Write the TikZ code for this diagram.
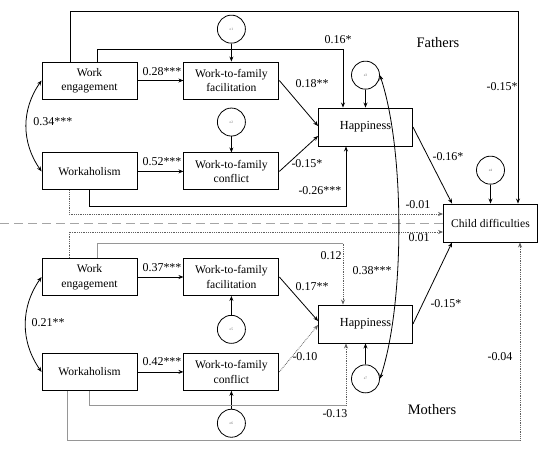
\documentclass[tikz,border=0pt]{standalone}
\usepackage{fontspec}
\setmainfont{Liberation Serif}
\usetikzlibrary{arrows.meta, positioning, calc}
\definecolor{pathgrey}{RGB}{150,150,150}
\definecolor{dotgrey}{RGB}{95,95,95}
\definecolor{sepgrey}{RGB}{165,165,165}
\tikzset{
    block/.style={
        rectangle,
        draw=black,
        line width=0.9pt,
        fill=white,
        align=center,
        inner sep=0pt,
        minimum width=95pt,
        minimum height=37pt,
        font=\fontsize{11.6}{14.5}\selectfont
    },
    outblock/.style={
        block,
        minimum width=94pt,
        minimum height=38pt
    },
    hapblock/.style={
        outblock,
        font=\fontsize{12.3}{14.5}\selectfont
    },
    errnode/.style={
        circle,
        draw=black,
        line width=0.8pt,
        fill=white,
        inner sep=0pt,
        minimum size=28pt,
        text=black!60,
        font=\fontsize{3.5}{4}\selectfont
    },
    connection/.style={
        draw=black,
        line width=0.8pt,
        -{Stealth[length=5pt,width=4pt]}
    },
    greypath/.style={
        draw=pathgrey,
        line width=0.8pt
    },
    dotpath/.style={
        draw=dotgrey,
        line width=0.8pt,
        densely dotted,
        -{Stealth[length=5pt,width=4pt]}
    },
    covariance/.style={
        draw=black,
        line width=0.8pt,
        {Stealth[length=5pt,width=4pt]}-{Stealth[length=5pt,width=4pt]}
    },
    separator/.style={
        draw=sepgrey,
        line width=1pt,
        dash pattern=on 9pt off 5pt
    },
    coef/.style={
        inner sep=0pt,
        font=\fontsize{12}{14}\selectfont
    },
    groupname/.style={
        inner sep=0pt,
        font=\fontsize{14.5}{16}\selectfont
    }
}

\begin{document}
\begin{tikzpicture}[x=1pt, y=-1pt]
\useasboundingbox (0,0) rectangle (550,451);
% Fathers
\node[block] (we1) at (89.5,80.5) {Work\\engagement};
\node[block, right=46pt of we1] (wff1) {Work-to-family\\facilitation};
\node[block, below=53pt of we1] (wa1) {Workaholism};
\node[block, right=46pt of wa1] (wfc1) {Work-to-family\\conflict};
\node[hapblock] (hap1) at (365.5,127) {Happiness};
\node[errnode, above=18pt of wff1] (e1) {e1};
\node[errnode, above=16pt of wfc1] (e2) {e2};
\node[errnode, above=18pt of hap1] (e3) {e3};

% Child difficulties
\node[outblock] (cd) at (490.5,223) {Child difficulties};
\node[errnode, above=19pt of cd] (e4) {e4};

% Mothers
\node[block] (we2) at (89.5,277) {Work\\engagement};
\node[block, right=46pt of we2] (wff2) {Work-to-family\\facilitation};
\node[block, below=57pt of we2] (wa2) {Workaholism};
\node[block, right=46pt of wa2] (wfc2) {Work-to-family\\conflict};
\node[hapblock] (hap2) at (365.5,324) {Happiness};
\node[errnode, below=19pt of wff2] (e5) {e5};
\node[errnode, below=18pt of wfc2] (e6) {e6};
\node[errnode, below=21pt of hap2] (e7) {e7};

\coordinate (sepstart) at (0,223);
\draw[separator] (sepstart) -- (cd.west);

\draw[connection] (we1) -- (wff1);
\draw[connection] (wa1) -- (wfc1);
\draw[connection] (e1) -- (wff1);
\draw[connection] (e2) -- (wfc1);
\draw[connection] (e3) -- (hap1);
\draw[connection] (e4) -- (cd);
\draw[covariance] (we1.west) to[bend right=35] (wa1.west);
\draw[connection] (wff1.east) -- ([yshift=1pt]hap1.west);
\draw[connection] (wfc1.east) -- ([yshift=-9pt]hap1.west);
\draw[connection] ([xshift=-19.5pt]we1.north) -- ++(0,-50) -| ([xshift=27.5pt]cd.north);
\draw[connection] ([xshift=7.5pt]we1.north) -- ++(0,-12) -| ([xshift=-22.5pt]hap1.north);
\draw[connection] (wa1.south) -- ++(0,16) -| ([xshift=-19.5pt]hap1.south);
\draw[dotpath] ([xshift=-20.5pt]wa1.south) |- ([yshift=9pt]cd.west);
\draw[connection] (hap1.east) -- ([xshift=9pt]cd.north west);

\draw[connection] (we2) -- (wff2);
\draw[connection] (wa2) -- (wfc2);
\draw[connection] (e5) -- (wff2);
\draw[connection] (e6) -- (wfc2);
\draw[connection] (e7) -- (hap2);
\draw[covariance] (we2.west) to[bend right=35] (wa2.west);
\draw[connection] (wff2.east) -- ([yshift=3pt]hap2.west);
\draw[dotpath] (wfc2.east) -- ([yshift=-1pt]hap2.west);
\draw[dotpath] ([xshift=-20.5pt]we2.north) |- ([yshift=-9pt]cd.west);
\draw[greypath] ([xshift=7.5pt]we2.north) |- ([xshift=-22.5pt,yshift=61pt]hap2.north) coordinate (bend12);
\draw[dotpath] (bend12) -- ([xshift=-22.5pt]hap2.north);
\draw[greypath] (wa2.south) |- ([xshift=-19.5pt,yshift=-62pt]hap2.south) coordinate (bend13);
\draw[dotpath] (bend13) -- ([xshift=-19.5pt]hap2.south);
\draw[greypath] ([xshift=-22.5pt]wa2.south) |- ([xshift=29.5pt,yshift=-198pt]cd.south) coordinate (bend04);
\draw[dotpath] (bend04) -- ([xshift=29.5pt]cd.south);
\draw[connection] (hap2.east) -- ([xshift=9pt]cd.south west);
\draw[covariance] (e3.east) .. controls +(25,75) and +(25,-75) .. (e7.east);

% coefficients
\node[coef] (weff1) at (162,72) {0.28***};
\node[coef] (wafc1) at (162,162) {0.52***};
\node[coef] (corr1) at (53,122) {0.34***};
\node[coef] (wehap1) at (338,40) {0.16*};
\node[coef] (wecd1) at (502,87) {-0.15*};
\node[coef] (ffhap1) at (312,84) {0.18**};
\node[coef] (fchap1) at (307,164) {-0.15*};
\node[coef] (wahap1) at (320,191) {-0.26***};
\node[coef] (hapcd1) at (448,157) {-0.16*};
\node[coef] (wacd1) at (418,205) {-0.01};
\node[groupname] (fathers) at (438,43) {Fathers};

\node[coef] (wecd2) at (419,238) {0.01};
\node[coef] (wehap2) at (331,256) {0.12};
\node[coef] (e3e7) at (372,271) {0.38***};
\node[coef] (weff2) at (162,268) {0.37***};
\node[coef] (ffhap2) at (312,287) {0.17**};
\node[coef] (hapcd2) at (446,304) {-0.15*};
\node[coef] (corr2) at (48,323) {0.21**};
\node[coef] (wafc2) at (162,362) {0.42***};
\node[coef] (fchap2) at (305,357) {-0.10};
\node[coef] (wacd2) at (500,357) {-0.04};
\node[coef] (wahap2) at (335,414) {-0.13};
\node[groupname] (mothers) at (432,410) {Mothers};
\end{tikzpicture}
\end{document}
